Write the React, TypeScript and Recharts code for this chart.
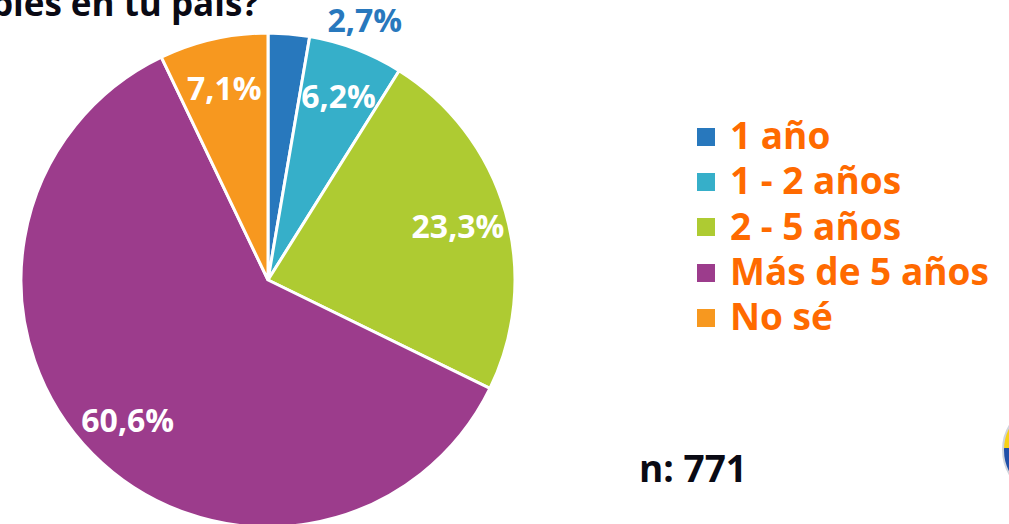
import React from 'react';
import { PieChart, Pie, Cell, Legend } from 'recharts';

const categories = ['1 año', '1 - 2 años', '2 - 5 años', 'Más de 5 años', 'No sé'];
const shares = [2.7, 6.2, 23.3, 60.6, 7.1];
const sliceColors = ['#2878bd', '#36afc9', '#aecb32', '#9c3c8c', '#f7981f'];

const titleText = 'bles en tu país?';
const sampleText = 'n: 771';

const data = categories.map((name, i) => ({ name, value: shares[i] }));

const FONT = '"Open Sans", "Noto Sans", sans-serif';
const RADIAN = Math.PI / 180;

const fmt = (v: number) => v.toFixed(1).replace('.', ',') + '%';

const renderLabel = (props: any) => {
  const { cx, cy, midAngle, outerRadius, value, index } = props;
  if (value < 5) {
    // small slice: label sits outside, up and to the right
    const r = outerRadius + 30;
    const x = cx + r * Math.cos(-midAngle * RADIAN) + 36;
    const y = cy + r * Math.sin(-midAngle * RADIAN) + 28;
    return (
      <text x={x} y={y} fill={sliceColors[index]} fontSize={32} fontWeight={700} fontFamily={FONT}>
        {fmt(value)}
      </text>
    );
  }
  const r = outerRadius * 0.8;
  const x = cx + r * Math.cos(-midAngle * RADIAN);
  const y = cy + r * Math.sin(-midAngle * RADIAN);
  return (
    <text x={x} y={y} fill="#ffffff" fontSize={32} fontWeight={700} fontFamily={FONT}
      textAnchor="middle" dominantBaseline="central">
      {fmt(value)}
    </text>
  );
};

const renderLegend = () => (
  <div style={{ fontFamily: FONT }}>
    {categories.map((c, i) => (
      <div key={c} style={{ display: 'flex', alignItems: 'center', height: 45.3 }}>
        <span style={{ display: 'inline-block', width: 18, height: 18, background: sliceColors[i], marginRight: 15, marginTop: 4 }} />
        <span style={{ color: '#ff6a00', fontSize: 37, fontWeight: 700, lineHeight: '45px' }}>{c}</span>
      </div>
    ))}
  </div>
);

export default function App() {
  return (
    <div style={{ position: 'absolute', left: 0, top: 0, width: 1009, height: 524, overflow: 'hidden', background: '#fff' }}>
      <PieChart width={1009} height={524} margin={{ top: 0, right: 0, bottom: 0, left: 0 }}>
        <Pie
          data={data}
          dataKey="value"
          nameKey="name"
          cx={268}
          cy={280}
          outerRadius={247}
          startAngle={90}
          endAngle={-270}
          stroke="#ffffff"
          strokeWidth={3}
          label={renderLabel}
          labelLine={false}
          isAnimationActive={false}
        >
          {data.map((d, i) => (
            <Cell key={d.name} fill={sliceColors[i]} />
          ))}
        </Pie>
        <Legend content={renderLegend} wrapperStyle={{ left: 697, top: 112, width: 312 }} />
      </PieChart>
      <svg width={1009} height={524} style={{ position: 'absolute', left: 0, top: 0, pointerEvents: 'none' }}>
        <text x={259} y={16} textAnchor="end" fontFamily={FONT} fontSize={35} fontWeight={700} fill="#0a0a14">
          {titleText}
        </text>
        <text x={639} y={482} fontFamily={FONT} fontSize={37} fontWeight={700} fill="#0a0a14">
          {sampleText}
        </text>
        <defs>
          <clipPath id="logo">
            <circle cx={1050} cy={450} r={47} />
          </clipPath>
        </defs>
        <g clipPath="url(#logo)">
          <rect x={1000} y={400} width={100} height={48} fill="#f7d117" />
          <rect x={1000} y={448} width={100} height={26} fill="#1f4fa8" />
          <rect x={1000} y={474} width={100} height={30} fill="#d0202e" />
        </g>
        <circle cx={1050} cy={450} r={47} fill="none" stroke="#cfd4dc" strokeWidth={2} />
      </svg>
    </div>
  );
}
